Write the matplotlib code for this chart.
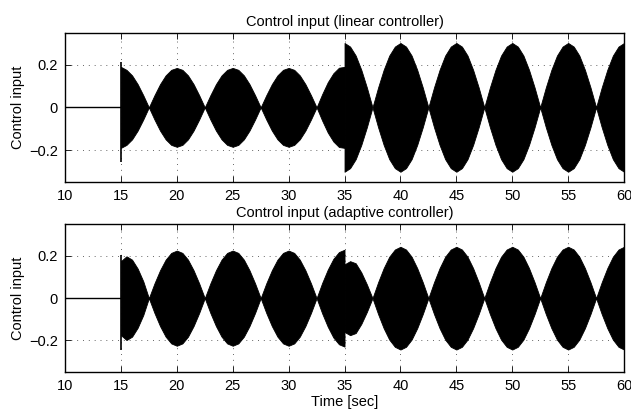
import numpy as np
import matplotlib
matplotlib.use("Agg")
import matplotlib.pyplot as plt

plt.rcParams['font.family'] = ['Liberation Sans', 'DejaVu Sans']
plt.rcParams['font.size'] = 10.5

# control input before the controller switches on (10-15 s)
t_pre = [10, 15]
u_pre = [0, 0]

# envelope of the (very fast) oscillating control input, read every 0.5 s
t_a = np.arange(15.0, 35.01, 0.5)   # 15 .. 35
t_b = np.arange(35.0, 60.01, 0.5)   # 35 .. 60 (jump at 35)

lin_env_a = [0.190, 0.176, 0.150, 0.109, 0.057, 0.0,
             0.057, 0.109, 0.150, 0.176, 0.185, 0.176, 0.150, 0.109, 0.057, 0.0,
             0.057, 0.109, 0.150, 0.176, 0.185, 0.176, 0.150, 0.109, 0.057, 0.0,
             0.057, 0.109, 0.150, 0.176, 0.185, 0.176, 0.150, 0.109, 0.057, 0.0,
             0.062, 0.118, 0.160, 0.186, 0.190]
lin_env_b = [0.302, 0.285, 0.243, 0.176, 0.093, 0.0,
             0.093, 0.176, 0.243, 0.285, 0.302, 0.285, 0.243, 0.176, 0.093, 0.0,
             0.093, 0.176, 0.243, 0.285, 0.302, 0.285, 0.243, 0.176, 0.093, 0.0,
             0.093, 0.176, 0.243, 0.285, 0.302, 0.285, 0.243, 0.176, 0.093, 0.0,
             0.093, 0.176, 0.243, 0.285, 0.302, 0.285, 0.243, 0.176, 0.093, 0.0,
             0.093, 0.176, 0.243, 0.285, 0.302]

ada_env_a = [0.175, 0.198, 0.182, 0.140, 0.080, 0.0,
             0.070, 0.132, 0.182, 0.214, 0.225, 0.214, 0.182, 0.132, 0.070, 0.0,
             0.070, 0.132, 0.182, 0.214, 0.225, 0.214, 0.182, 0.132, 0.070, 0.0,
             0.070, 0.132, 0.182, 0.214, 0.225, 0.214, 0.182, 0.132, 0.070, 0.0,
             0.072, 0.135, 0.186, 0.218, 0.229]
ada_env_b = [0.160, 0.175, 0.165, 0.122, 0.065, 0.0,
             0.075, 0.142, 0.196, 0.230, 0.243, 0.230, 0.196, 0.142, 0.075, 0.0,
             0.075, 0.142, 0.196, 0.230, 0.243, 0.230, 0.196, 0.142, 0.075, 0.0,
             0.075, 0.142, 0.196, 0.230, 0.243, 0.230, 0.196, 0.142, 0.075, 0.0,
             0.075, 0.142, 0.196, 0.230, 0.243, 0.230, 0.196, 0.142, 0.075, 0.0,
             0.075, 0.142, 0.196, 0.230, 0.243]

# initial spike at switch-on (t = 15 s): (max, min)
lin_spike = (0.214, -0.256)
ada_spike = (0.202, -0.245)

x_ticks = [10, 15, 20, 25, 30, 35, 40, 45, 50, 55, 60]
y_ticks = [-0.2, 0, 0.2]
y_ticklabels = ['\u22120.2', '0', '0.2']


def draw_panel(ax, env_a, env_b, spike, title):
    ea = np.array(env_a)
    eb = np.array(env_b)
    ax.plot(t_pre, u_pre, color='black', lw=1.0)
    ax.fill_between(t_a, -ea, ea, color='black', lw=0.6, edgecolor='black')
    ax.fill_between(t_b, -eb, eb, color='black', lw=0.6, edgecolor='black')
    ax.vlines(15, spike[1], spike[0], color='black', lw=1.2)

    ax.set_xlim(10, 60)
    ax.set_ylim(-0.35, 0.35)
    ax.set_xticks(x_ticks)
    ax.set_yticks(y_ticks)
    ax.set_yticklabels(y_ticklabels)
    ax.set_ylabel('Control input', labelpad=3)
    ax.set_title(title, fontsize=10.5, pad=5)
    ax.grid(True, color='0.4', linestyle=(0, (1, 5)), lw=0.7)
    ax.set_axisbelow(True)
    ax.tick_params(direction='in', top=True, right=True, length=4, width=0.6,
                   labelsize=10.5, pad=5)
    for s in ax.spines.values():
        s.set_linewidth(1.0)
        s.set_zorder(5)


fig = plt.figure(figsize=(6.31, 4.09), dpi=100)
ax1 = fig.add_axes([0.103, 0.555, 0.886, 0.365])
ax2 = fig.add_axes([0.103, 0.090, 0.886, 0.362])

draw_panel(ax1, lin_env_a, lin_env_b, lin_spike, 'Control input (linear controller)')
draw_panel(ax2, ada_env_a, ada_env_b, ada_spike, 'Control input (adaptive controller)')
ax2.set_xlabel('Time [sec]', labelpad=1)

fig.savefig('out.png', dpi=100)
